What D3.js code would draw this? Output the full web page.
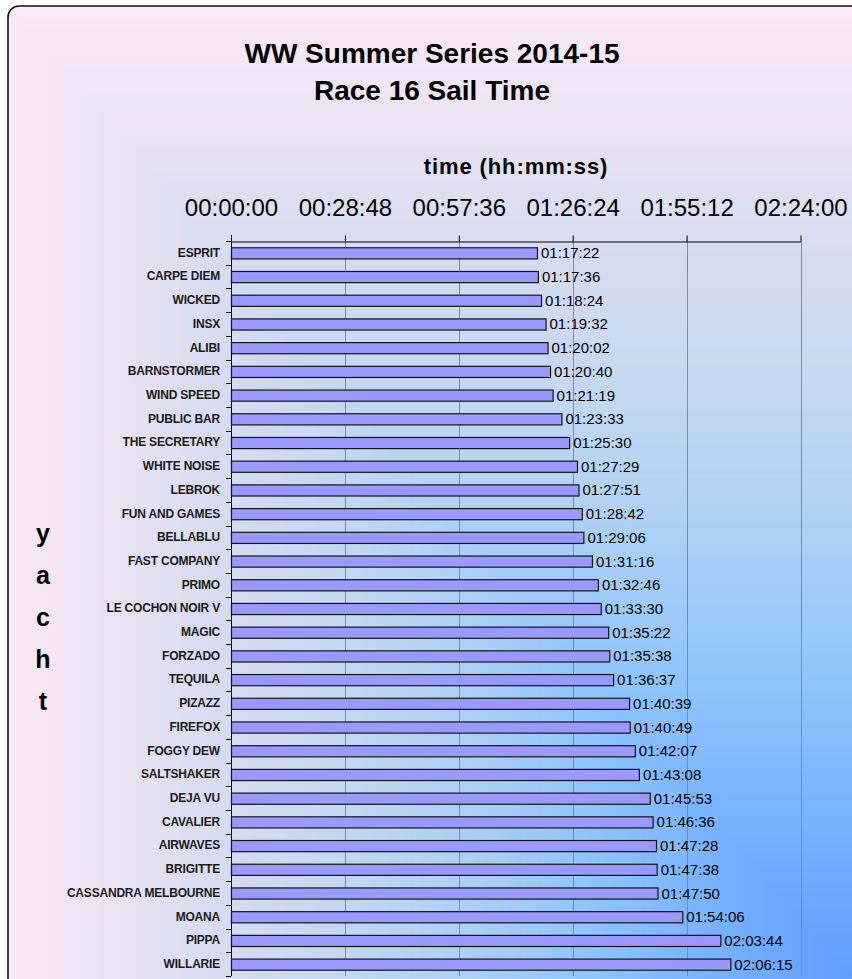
<!DOCTYPE html>
<html>
<head>
<meta charset="utf-8">
<script src="https://cdn.jsdelivr.net/npm/d3@7"></script>
<style>
  body { margin: 0; background: #fff; }
  svg { display: block; font-family: Arial, "Liberation Sans", sans-serif; }
</style>
</head>
<body>
<div id="chart"></div>
<script>
// race 16 results, in finishing order
var yachts = ["ESPRIT", "CARPE DIEM", "WICKED", "INSX", "ALIBI", "BARNSTORMER", "WIND SPEED",
    "PUBLIC BAR", "THE SECRETARY", "WHITE NOISE", "LEBROK", "FUN AND GAMES", "BELLABLU",
    "FAST COMPANY", "PRIMO", "LE COCHON NOIR V", "MAGIC", "FORZADO", "TEQUILA", "PIZAZZ",
    "FIREFOX", "FOGGY DEW", "SALTSHAKER", "DEJA VU", "CAVALIER", "AIRWAVES", "BRIGITTE",
    "CASSANDRA MELBOURNE", "MOANA", "PIPPA", "WILLARIE"];
var sailTimes = ["01:17:22", "01:17:36", "01:18:24", "01:19:32", "01:20:02", "01:20:40", "01:21:19",
    "01:23:33", "01:25:30", "01:27:29", "01:27:51", "01:28:42", "01:29:06",
    "01:31:16", "01:32:46", "01:33:30", "01:35:22", "01:35:38", "01:36:37", "01:40:39",
    "01:40:49", "01:42:07", "01:43:08", "01:45:53", "01:46:36", "01:47:28", "01:47:38",
    "01:47:50", "01:54:06", "02:03:44", "02:06:15"];
var tickLabels = ["00:00:00", "00:28:48", "00:57:36", "01:26:24", "01:55:12", "02:24:00"];
var titleLines = ["WW Summer Series 2014-15", "Race 16 Sail Time"];
var xTitle = "time (hh:mm:ss)";
var yTitle = "yacht";

function toSec(s) {
    var p = s.split(":");
    return (+p[0]) * 3600 + (+p[1]) * 60 + (+p[2]);
}
function pad(n) { return (n < 10 ? "0" : "") + n; }
function fmt(sec) {
    return pad(Math.floor(sec / 3600)) + ":" + pad(Math.floor(sec % 3600 / 60)) + ":" + pad(sec % 60);
}

var data = yachts.map(function(d, i) { return {name: d, time: toSec(sailTimes[i]), label: sailTimes[i]}; });
var tickVals = tickLabels.map(toSec);

var width = 852, height = 979;
var plot = {left: 231, right: 800.5, top: 241, bottom: 976};

var svg = d3.select("#chart").append("svg")
    .attr("width", width)
    .attr("height", height);

// chart frame with corner gradient (pink top-left -> blue bottom-right)
var defs = svg.append("defs");
defs.append("clipPath").attr("id", "frameClip")
  .append("rect")
    .attr("x", 8).attr("y", 6)
    .attr("width", 900).attr("height", 1000)
    .attr("rx", 11).attr("ry", 11);

var bgColor = d3.scaleLinear()
    .domain([0, 0.15, 0.3, 0.45, 0.6, 0.75, 0.88, 1])
    .range(["#5c9cff", "#74aeff", "#8cc3fd", "#a9cff5", "#c2d8f0", "#d6dcf0", "#ebe3f3", "#fce8f8"])
    .interpolate(d3.interpolateRgb);

var cx = 862, cy = 990, x0 = 8, y0 = 6;
var steps = d3.range(240, 0, -1).map(function(i) { return i / 240; });
svg.append("g")
    .attr("clip-path", "url(#frameClip)")
  .selectAll("rect")
  .data(steps)
  .enter().append("rect")
    .attr("x", function(t) { return cx - t * (cx - x0); })
    .attr("y", function(t) { return cy - t * (cy - y0); })
    .attr("width", function(t) { return t * (cx - x0) + 1; })
    .attr("height", function(t) { return t * (cy - y0) + 1; })
    .attr("fill", function(t) { return bgColor(t); });

svg.append("rect")
    .attr("x", 8).attr("y", 6)
    .attr("width", 900).attr("height", 1000)
    .attr("rx", 11).attr("ry", 11)
    .attr("fill", "none")
    .attr("stroke", "#111")
    .attr("stroke-width", 1.6);

// scales
var x = d3.scaleLinear()
    .domain([0, d3.max(tickVals)])
    .range([plot.left, plot.right]);

var y = d3.scaleBand()
    .domain(yachts)
    .range([plot.top, plot.bottom])
    .paddingInner(0.53)
    .paddingOuter(0.265);

// gridlines
svg.append("g")
  .selectAll("line")
  .data(tickVals.slice(1))
  .enter().append("line")
    .attr("x1", function(d) { return Math.round(x(d)) + 0.5; })
    .attr("x2", function(d) { return Math.round(x(d)) + 0.5; })
    .attr("y1", plot.top)
    .attr("y2", plot.bottom)
    .attr("stroke", "#8a8a8a")
    .attr("stroke-width", 1);

// top axis
var xAxis = svg.append("g")
    .attr("transform", "translate(0," + (plot.top + 0.5) + ")")
    .call(d3.axisTop(x).tickValues(tickVals).tickFormat(fmt).tickSize(6).tickPadding(20).tickSizeOuter(0));
xAxis.select(".domain").attr("stroke", "#000");
xAxis.selectAll(".tick line").attr("stroke", "#000");
xAxis.selectAll(".tick text")
    .attr("font-size", 24)
    .attr("fill", "#000")
    .attr("font-family", "Arial, 'Liberation Sans', sans-serif");

// left axis: labels centred on bars, ticks between categories
var yAxis = svg.append("g")
    .attr("transform", "translate(" + plot.left + ",0)")
    .call(d3.axisLeft(y).tickSize(0).tickPadding(11));
yAxis.select(".domain").remove();
yAxis.selectAll(".tick text")
    .attr("font-size", 12)
    .attr("font-weight", "bold")
    .attr("letter-spacing", "-0.2px")
    .attr("fill", "#1a1a1a")
    .attr("font-family", "Arial, 'Liberation Sans', sans-serif");

var bounds = d3.range(yachts.length + 1).map(function(i) { return plot.top + i * y.step(); });
svg.append("g")
  .selectAll("line")
  .data(bounds)
  .enter().append("line")
    .attr("x1", plot.left - 5)
    .attr("x2", plot.left)
    .attr("y1", function(d) { return Math.round(d) + 0.5; })
    .attr("y2", function(d) { return Math.round(d) + 0.5; })
    .attr("stroke", "#000");

svg.append("line")
    .attr("x1", plot.left + 0.5).attr("x2", plot.left + 0.5)
    .attr("y1", plot.top - 6).attr("y2", plot.bottom)
    .attr("stroke", "#000");

// bars
svg.append("g")
  .selectAll("rect")
  .data(data)
  .enter().append("rect")
    .attr("x", plot.left + 0.5)
    .attr("y", function(d) { return y(d.name) + 0.5; })
    .attr("width", function(d) { return x(d.time) - plot.left; })
    .attr("height", y.bandwidth())
    .attr("fill", "#9999ff")
    .attr("stroke", "#151515")
    .attr("stroke-width", 1.2);

// value labels
svg.append("g")
  .selectAll("text")
  .data(data)
  .enter().append("text")
    .attr("x", function(d) { return x(d.time) + 4; })
    .attr("y", function(d) { return y(d.name) + y.bandwidth() / 2 + 5.5; })
    .attr("font-size", 15)
    .attr("fill", "#000")
    .text(function(d) { return d.label; });

// titles
svg.append("g")
  .selectAll("text")
  .data(titleLines)
  .enter().append("text")
    .attr("x", 432)
    .attr("y", function(d, i) { return 63 + i * 37; })
    .attr("text-anchor", "middle")
    .attr("font-size", 28)
    .attr("font-weight", "bold")
    .attr("fill", "#000")
    .text(function(d) { return d; });

svg.append("text")
    .attr("x", 516)
    .attr("y", 174)
    .attr("text-anchor", "middle")
    .attr("font-size", 22)
    .attr("font-weight", "bold")
    .attr("letter-spacing", "0.9px")
    .attr("fill", "#000")
    .text(xTitle);

// stacked vertical y-axis title
svg.append("g")
  .selectAll("text")
  .data(yTitle.split(""))
  .enter().append("text")
    .attr("x", 43)
    .attr("y", function(d, i) { return 542 + i * 42; })
    .attr("text-anchor", "middle")
    .attr("font-size", 25)
    .attr("font-weight", "bold")
    .attr("fill", "#000")
    .text(function(d) { return d; });
</script>
</body>
</html>
